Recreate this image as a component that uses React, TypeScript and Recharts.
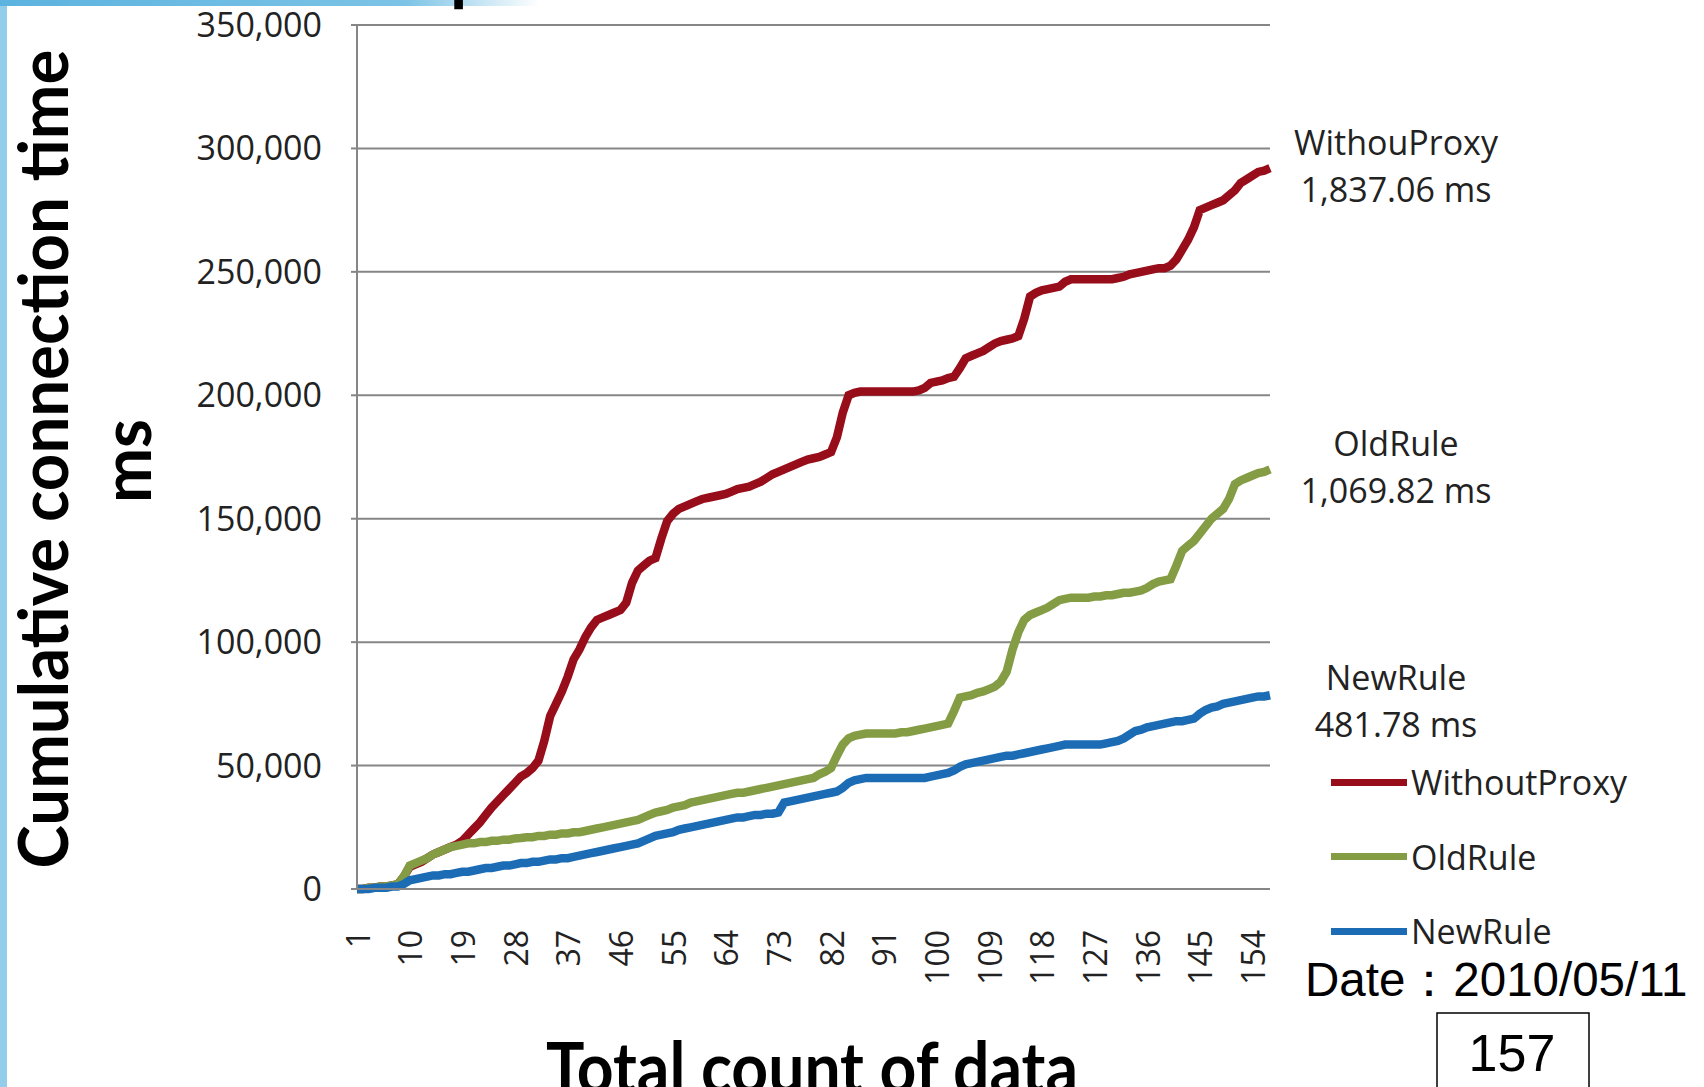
import React from "react";
import { LineChart, Line, XAxis, YAxis, CartesianGrid, Legend } from "recharts";

// cumulative connection time (thousands of ms), one value per data count 1..157
const withoutProxyK = [
  0, 0, 0.5, 0.5, 1, 1, 1.5, 2, 5, 9,
  10, 11, 12.5, 14, 15, 16, 17, 18, 19.5, 22,
  24.5, 27, 30, 33, 35.5, 38, 40.5, 43, 45.5, 47,
  49, 52, 60, 70, 75, 80, 86, 93, 97, 102,
  106, 109, 110, 111, 112, 113, 116, 124, 129, 131,
  133, 134, 142, 149, 152, 154, 155, 156, 157, 158,
  158.5, 159, 159.5, 160, 161, 162, 162.5, 163, 164, 165,
  166.5, 168, 169, 170, 171, 172, 173, 174, 174.5, 175,
  176, 177, 183, 193, 200, 201, 201.5, 201.5, 201.5, 201.5,
  201.5, 201.5, 201.5, 201.5, 201.5, 201.5, 202, 203, 205, 205.5,
  206, 207, 207.5, 211, 215, 216, 217, 218, 219.5, 221,
  222, 222.5, 223, 224, 231, 240, 241.5, 242.5, 243, 243.5,
  244, 246, 247, 247, 247, 247, 247, 247, 247, 247,
  247.5, 248, 249, 249.5, 250, 250.5, 251, 251.5, 251.5, 252.5,
  255, 259, 263, 268, 275, 276, 277, 278, 279, 281,
  283, 286, 287.5, 289, 290.5, 291, 292,
];

const oldRuleK = [
  0, 0, 0.5, 0.5, 1, 1, 1.5, 2, 5, 9.5,
  10.5, 11.5, 12.5, 14, 15, 16, 17, 17.5, 18, 18.5,
  18.5, 19, 19, 19.5, 19.5, 20, 20, 20.5, 20.7, 21,
  21, 21.5, 21.5, 22, 22, 22.5, 22.5, 23, 23, 23.5,
  24, 24.5, 25, 25.5, 26, 26.5, 27, 27.5, 28, 29,
  30, 31, 31.5, 32, 33, 33.5, 34, 35, 35.5, 36,
  36.5, 37, 37.5, 38, 38.5, 39, 39, 39.5, 40, 40.5,
  41, 41.5, 42, 42.5, 43, 43.5, 44, 44.5, 45, 46.5,
  47.5, 49, 54, 58.5, 61, 62, 62.5, 63, 63, 63,
  63, 63, 63, 63.5, 63.5, 64, 64.5, 65, 65.5, 66,
  66.5, 67, 72, 77.5, 78, 78.5, 79.5, 80, 81, 82,
  84, 88, 97, 104, 109, 111, 112, 113, 114, 115.5,
  117, 117.5, 118, 118, 118, 118, 118.5, 118.5, 119, 119,
  119.5, 120, 120, 120.5, 121, 122, 123.5, 124.5, 125, 125.5,
  131, 137, 139, 141, 144, 147, 150, 152, 154, 158,
  164, 165.5, 166.5, 167.5, 168.5, 169, 170,
];

const newRuleK = [
  0, 0, 0, 0.5, 0.5, 0.5, 1, 1, 2, 3.5,
  4, 4.5, 5, 5.5, 5.5, 6, 6, 6.5, 7, 7,
  7.5, 8, 8.5, 8.5, 9, 9.5, 9.5, 10, 10.5, 10.5,
  11, 11, 11.5, 12, 12, 12.5, 12.5, 13, 13.5, 14,
  14.5, 15, 15.5, 16, 16.5, 17, 17.5, 18, 18.5, 19.5,
  20.5, 21.5, 22, 22.5, 23, 24, 24.5, 25, 25.5, 26,
  26.5, 27, 27.5, 28, 28.5, 29, 29, 29.5, 30, 30,
  30.5, 30.5, 31, 35, 35.5, 36, 36.5, 37, 37.5, 38,
  38.5, 39, 39.5, 41, 43, 44, 44.5, 45, 45, 45,
  45, 45, 45, 45, 45, 45, 45, 45, 45.5, 46,
  46.5, 47, 48, 49.5, 50.5, 51, 51.5, 52, 52.5, 53,
  53.5, 54, 54, 54.5, 55, 55.5, 56, 56.5, 57, 57.5,
  58, 58.5, 58.5, 58.5, 58.5, 58.5, 58.5, 58.5, 59, 59.5,
  60, 61, 62.5, 64, 64.5, 65.5, 66, 66.5, 67, 67.5,
  68, 68, 68.5, 69, 71, 72.5, 73.5, 74, 75, 75.5,
  76, 76.5, 77, 77.5, 78, 78, 78.5,
];

const counts = withoutProxyK.map((_, i) => String(i + 1));
const yTicks = [0, 50000, 100000, 150000, 200000, 250000, 300000, 350000];

const seriesNames = ["WithoutProxy", "OldRule", "NewRule"];
const seriesColors = ["#980d1a", "#849c44", "#1b6cb4"];

const endNotes = [
  { name: "WithouProxy", avg: "1,837.06 ms", y: 142 },
  { name: "OldRule", avg: "1,069.82 ms", y: 443 },
  { name: "NewRule", avg: "481.78 ms", y: 677 },
];

const data = counts.map((c, i) => ({
  count: c,
  WithoutProxy: withoutProxyK[i] * 1000,
  OldRule: oldRuleK[i] * 1000,
  NewRule: newRuleK[i] * 1000,
}));

const sans = "'Open Sans', sans-serif";
const boldFont = "Lato, sans-serif";
const gridGray = "#868686";

const XTick = (props: any) => {
  const { x, y, payload } = props;
  return (
    <text
      x={x}
      y={y}
      transform={`rotate(-90 ${x} ${y})`}
      textAnchor="end"
      dominantBaseline="central"
      fontSize={32}
      fontFamily={sans}
      fill="#222"
    >
      {payload.value}
    </text>
  );
};

// legend drawn in the order of the series, not alphabetically
const LegendBox = (props: any) => {
  const items = [...(props.payload || [])].sort(
    (a: any, b: any) => seriesNames.indexOf(a.value) - seriesNames.indexOf(b.value)
  );
  return (
    <div>
      {items.map((p: any) => (
        <div key={p.value} style={{ height: 74.5, display: "flex", alignItems: "center" }}>
          <span style={{ display: "inline-block", width: 76, height: 7, background: p.color }} />
          <span style={{ marginLeft: 4, fontSize: 34, fontFamily: sans, color: "#222", lineHeight: 1 }}>
            {p.value}
          </span>
        </div>
      ))}
    </div>
  );
};

export default function App() {
  return (
    <div
      style={{
        position: "absolute",
        left: 0,
        top: 0,
        width: 1704,
        height: 1087,
        overflow: "hidden",
        background: "#fff",
      }}
    >
      {/* slide decoration */}
      <div style={{ position: "absolute", left: 0, top: 0, width: 7, height: 1087, background: "#93cdea" }} />
      <div
        style={{
          position: "absolute",
          left: 0,
          top: 0,
          width: 540,
          height: 6,
          background: "linear-gradient(90deg, #5cb3df 0%, #7cc3e6 75%, rgba(255,255,255,0) 100%)",
        }}
      />

      <LineChart
        width={1704}
        height={1087}
        data={data}
        margin={{ top: 25, right: 434, bottom: 138, left: 297 }}
      >
        <CartesianGrid vertical={false} stroke={gridGray} strokeWidth={2} />
        <XAxis
          dataKey="count"
          interval={8}
          height={60}
          tickSize={0}
          tickMargin={41}
          tick={<XTick />}
          axisLine={{ stroke: gridGray, strokeWidth: 2 }}
          tickLine={false}
        />
        <YAxis
          width={60}
          domain={[0, 350000]}
          ticks={yTicks}
          tickFormatter={(v: number) => v.toLocaleString("en-US")}
          tick={{ fill: "#222", fontSize: 34, fontFamily: sans }}
          tickSize={6}
          tickMargin={29}
          tickLine={{ stroke: gridGray, strokeWidth: 2 }}
          axisLine={{ stroke: gridGray, strokeWidth: 2 }}
        />
        {seriesNames.map((name, i) => (
          <Line
            key={name}
            dataKey={name}
            type="linear"
            stroke={seriesColors[i]}
            strokeWidth={8.5}
            dot={false}
            isAnimationActive={false}
          />
        ))}
        <Legend
          layout="vertical"
          align="center"
          verticalAlign="middle"
          content={<LegendBox />}
          wrapperStyle={{ position: "absolute", left: 1331, top: 745, width: 360, height: 224 }}
        />
      </LineChart>

      <svg
        width={1704}
        height={1087}
        style={{ position: "absolute", left: 0, top: 0, pointerEvents: "none" }}
      >
        <text x={450} y={-3} fontSize={70} fontWeight="bold" fontFamily={boldFont} fill="#000">
          p
        </text>
        <text
          x={68}
          y={459}
          transform="rotate(-90 68 459)"
          textAnchor="middle"
          fontSize={68}
          fontWeight="bold"
          fontFamily={boldFont}
          fill="#000"
          textLength={819}
          lengthAdjust="spacingAndGlyphs"
        >
          Cumulative connection time
        </text>
        <text
          x={151}
          y={461}
          transform="rotate(-90 151 461)"
          textAnchor="middle"
          fontSize={68}
          fontWeight="bold"
          fontFamily={boldFont}
          fill="#000"
          textLength={84}
          lengthAdjust="spacingAndGlyphs"
        >
          ms
        </text>
        <text
          x={812}
          y={1093}
          textAnchor="middle"
          fontSize={70}
          fontWeight="bold"
          fontFamily={boldFont}
          fill="#000"
          textLength={532}
          lengthAdjust="spacingAndGlyphs"
        >
          Total count of data
        </text>
        {endNotes.map((n) => (
          <g key={n.name} fontFamily={sans} fontSize={34} fill="#222" textAnchor="middle">
            <text x={1396} y={n.y} dominantBaseline="central">{n.name}</text>
            <text x={1396} y={n.y + 47} dominantBaseline="central">{n.avg}</text>
          </g>
        ))}
        <text x={1305} y={996} fontSize={47.5} fontFamily="'Liberation Sans', Arial, sans-serif" fill="#000">
          Date：2010/05/11
        </text>
        <rect x={1437} y={1013} width={152} height={100} fill="none" stroke="#000" strokeWidth={1.5} />
        <text
          x={1512}
          y={1071}
          textAnchor="middle"
          fontSize={52}
          fontFamily="'Liberation Sans', Arial, sans-serif"
          fill="#000"
        >
          157
        </text>
      </svg>
    </div>
  );
}
